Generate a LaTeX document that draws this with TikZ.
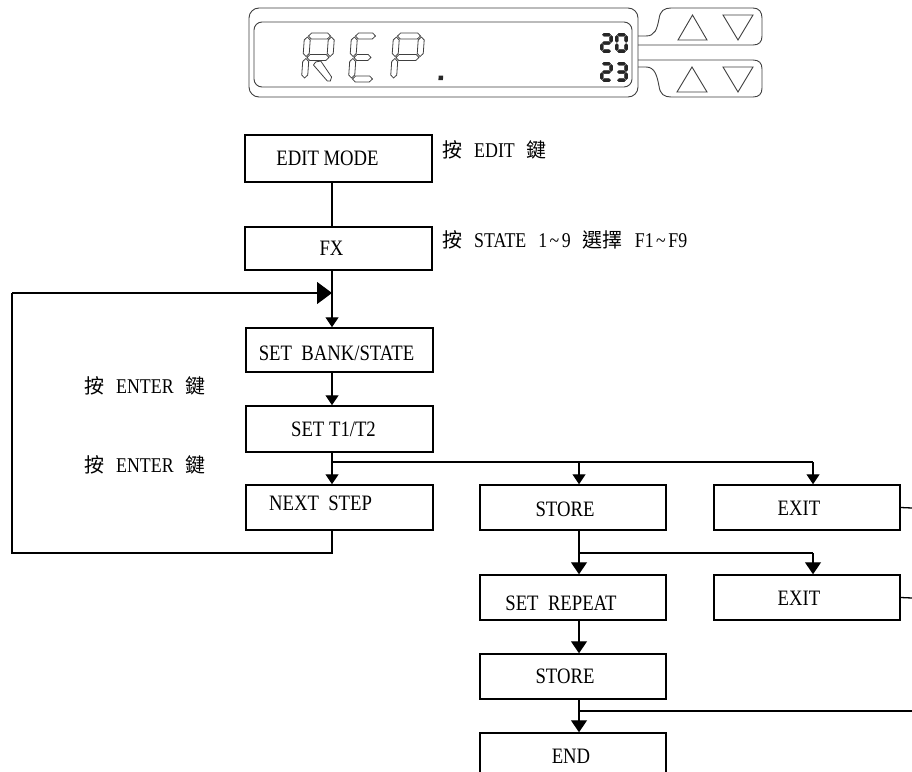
\documentclass[tikz,border=0pt]{standalone}
\usepackage{fontspec}
\setmainfont{Liberation Serif}[FakeStretch=0.85]
\newfontfamily\cjk{Noto Sans CJK TC}
\usetikzlibrary{arrows.meta}

\tikzset{
  box/.style={draw, line width=1.5pt, minimum width=187pt, minimum height=45pt, inner sep=0pt},
  boxtxt/.style={inner sep=0pt, font=\fontsize{22}{24}\selectfont},
  conn/.style={line width=1.3pt},
  arr/.style={conn, -{Triangle[length=10pt,width=13pt]}},
  arrb/.style={conn, -{Triangle[length=12pt,width=16pt]}},
  bigarr/.style={conn, -{Triangle[length=15pt,width=22pt]}},
  lbl/.style={anchor=west, inner sep=0pt, font=\fontsize{21}{23}\selectfont},
  lcd/.style={draw=black!75, line width=0.9pt},
  seg/.style={draw=black!75, line width=0.8pt, line join=round},
  dseg/.style={fill=black!85, draw=black!85, line width=0.3pt, line join=round},
}

\newcommand\CJ[1]{{\cjk\fontsize{20}{22}\selectfont #1}}
\newcommand\gap{\hspace{12pt}}
\newcommand\tl{\hspace{2.5pt}\char`~\hspace{2.5pt}}

% outlined LCD segments (half thickness 3, gap 1)
\newcommand\sH[3]{\draw[seg] ({#1+1},#3) -- ({#1+4},{#3-3}) -- ({#2-4},{#3-3}) -- ({#2-1},#3) -- ({#2-4},{#3+3}) -- ({#1+4},{#3+3}) -- cycle;}
\newcommand\sV[3]{\draw[seg] (#1,{#2+1}) -- ({#1+3},{#2+4}) -- ({#1+3},{#3-4}) -- (#1,{#3-1}) -- ({#1-3},{#3-4}) -- ({#1-3},{#2+4}) -- cycle;}
% filled small digit segments (half thickness 1.6, gap 0.5)
\newcommand\dH[3]{\filldraw[dseg] ({#1+0.5},#3) -- ({#1+2.1},{#3-1.6}) -- ({#2-2.1},{#3-1.6}) -- ({#2-0.5},#3) -- ({#2-2.1},{#3+1.6}) -- ({#1+2.1},{#3+1.6}) -- cycle;}
\newcommand\dV[3]{\filldraw[dseg] (#1,{#2+0.5}) -- ({#1+1.6},{#2+2.1}) -- ({#1+1.6},{#3-2.1}) -- (#1,{#3-0.5}) -- ({#1-1.6},{#3-2.1}) -- ({#1-1.6},{#2+2.1}) -- cycle;}

\begin{document}
\begin{tikzpicture}[x=1pt, y=-1pt]
\useasboundingbox (0,0) rectangle (912,771);
\clip (0,0) rectangle (912,771);
\fill[white] (0,0) rectangle (912,771);

% ---------- LCD display ----------
\draw[lcd, rounded corners=10pt] (249,8) rectangle (638,97);
\draw[lcd, rounded corners=8pt] (254,22) rectangle (632,87);
% buttons
\draw[lcd] (638,36) -- (646,36) .. controls (655,36) and (657,29) .. (659,19)
  .. controls (660,11) and (664,8) .. (671,8) -- (753,8)
  .. controls (759,8) and (762,12) .. (762,18) -- (762,36)
  .. controls (762,42) and (759,45) .. (753,45) -- (638,45);
\draw[lcd] (638,60) -- (753,60) .. controls (759,60) and (762,63) .. (762,69) -- (762,88)
  .. controls (762,94) and (759,97) .. (753,97) -- (671,97)
  .. controls (664,97) and (660,94) .. (659,86) .. controls (657,76) and (655,67) .. (646,67) -- (638,67);
\draw[lcd] (678,40) -- (692.5,15) -- (707,40) -- cycle;
\draw[lcd] (723,15) -- (753,15) -- (738,40) -- cycle;
\draw[lcd] (677,92) -- (692,67) -- (707,92) -- cycle;
\draw[lcd] (723,67) -- (753,67) -- (738,92) -- cycle;
% "REP." in segments
\begin{scope}[xshift=4pt, xslant=0.07]
  % R
  \sH{306}{330}{36} \sV{306}{36}{57.5} \sV{330}{36}{57.5} \sH{306}{330}{57.5} \sV{306}{57.5}{79}
  \draw[seg] (316,62) -- (321,61) -- (333,77) -- (332,81) -- (329,81) -- (314,65) -- cycle;
  % E
  \sH{353}{375}{36} \sV{353}{36}{57.5} \sH{353}{372}{57.5} \sV{353}{57.5}{79} \sH{353}{375}{79}
  % P
  \sH{395}{420}{36} \sV{395}{36}{57.5} \sV{420}{36}{57.5} \sH{395}{420}{57.5} \sV{395}{57.5}{79}
  % dot
  \fill[black!85] (440,75.5) rectangle (444.5,80);
\end{scope}
% small digits 20 / 23
\dH{601.8}{611.2}{34.8} \dV{611.2}{34.8}{43} \dH{601.8}{611.2}{43} \dV{601.8}{43}{51.2} \dH{601.8}{611.2}{51.2}
\dH{616.8}{626.2}{34.8} \dV{616.8}{34.8}{43} \dV{626.2}{34.8}{43} \dV{616.8}{43}{51.2} \dV{626.2}{43}{51.2} \dH{616.8}{626.2}{51.2}
\dH{601.8}{611.2}{63.8} \dV{611.2}{63.8}{72} \dH{601.8}{611.2}{72} \dV{601.8}{72}{80.2} \dH{601.8}{611.2}{80.2}
\dH{616.8}{626.2}{63.8} \dV{626.2}{63.8}{72} \dH{616.8}{626.2}{72} \dV{626.2}{72}{80.2} \dH{616.8}{626.2}{80.2}

% ---------- flowchart boxes ----------
\node[box, minimum height=47pt] (edit) at (338.5,158.5) {};
\node[boxtxt] (editt) at ([xshift=-11pt]edit.center) {EDIT MODE};
\node[box, minimum height=43pt] (fx) at (338.5,248.5) {};
\node[boxtxt] (fxt) at ([xshift=-7pt]fx.center) {FX};
\node[box, minimum height=44pt] (bank) at (339.5,350) {};
\node[boxtxt] (bankt) at ([xshift=-3pt,yshift=-3pt]bank.center) {SET\ \ BANK/STATE};
\node[box, minimum height=46pt] (t12) at (339.5,429) {};
\node[boxtxt] (t12t) at ([xshift=-6pt]t12.center) {SET T1/T2};
\node[box] (next) at (339.5,507.5) {};
\node[boxtxt] (nextt) at ([xshift=-19pt,yshift=4pt]next.center) {NEXT\ \ STEP};
\node[box, minimum width=186pt] (store1) at (573,507.5) {};
\node[boxtxt] (store1t) at ([xshift=-8pt,yshift=-2pt]store1.center) {STORE};
\node[box, minimum width=186pt] (exit1) at (807,507.5) {};
\node[boxtxt] (exit1t) at ([xshift=-8pt,yshift=-1pt]exit1.center) {EXIT};
\node[box, minimum width=186pt] (setrep) at (573,597.5) {};
\node[boxtxt] (setrept) at ([xshift=-12pt,yshift=-6pt]setrep.center) {SET\ \ REPEAT};
\node[box, minimum width=186pt] (exit2) at (807,597.5) {};
\node[boxtxt] (exit2t) at ([xshift=-8pt,yshift=-1pt]exit2.center) {EXIT};
\node[box, minimum width=186pt] (store2) at (573,676.5) {};
\node[boxtxt] (store2t) at ([xshift=-8pt]store2.center) {STORE};
\node[box, minimum width=186pt, minimum height=60pt] (endb) at (573,763) {};
\node[boxtxt] (endt) at (571,756.5) {END};

% ---------- labels ----------
\node[lbl] (l1) at (442,150) {\CJ{按}\gap EDIT\gap\CJ{鍵}};
\node[lbl] (l2) at (442,240) {\CJ{按}\gap STATE\gap 1\tl 9\gap\CJ{選擇}\gap F1\tl F9};
\node[lbl] (l3) at (84,386) {\CJ{按}\gap ENTER\gap\CJ{鍵}};
\node[lbl] (l4) at (84,465) {\CJ{按}\gap ENTER\gap\CJ{鍵}};

% ---------- connectors ----------
\coordinate (tx) at (332,0);
\coordinate (sx) at (579,0);
\coordinate (ex) at (813,0);
\coordinate (fb) at (332,293);
\coordinate (br1) at (332,462);
\coordinate (br2) at (579,553);
\coordinate (br3) at (579,711);
\coordinate (lpb) at (332,553);
\coordinate (r1) at (912,508);
\coordinate (r2) at (912,598);
\coordinate (r3) at (912,711);

\draw[conn] (edit.south -| tx) -- (fx.north -| tx);
\draw[arr] (fx.south -| tx) -- (bank.north -| tx);
\draw[arr] (bank.south -| tx) -- (t12.north -| tx);
\draw[arr] (t12.south -| tx) -- (next.north -| tx);
\draw[conn] (next.south -| tx) -- (lpb) -- (12,553) -- (12,293) coordinate (lpt);
\draw[bigarr] (lpt) -- (fb);
\draw[conn] (br1) -- (br1 -| ex);
\draw[arr] (br1 -| sx) -- (store1.north -| sx);
\draw[arr] (br1 -| ex) -- (exit1.north -| ex);
\draw[arrb] (store1.south -| sx) -- (setrep.north -| sx);
\draw[conn] (br2) -- (br2 -| ex);
\draw[arrb] (br2 -| ex) -- (exit2.north -| ex);
\draw[arrb] (setrep.south -| sx) -- (store2.north -| sx);
\draw[arrb] (store2.south -| sx) -- (endb.north -| sx);
\draw[conn] (br3) -- (r3);
\draw[conn] (exit1.east) -- (r1);
\draw[conn] (exit2.east) -- (r2);
\end{tikzpicture}
\end{document}
